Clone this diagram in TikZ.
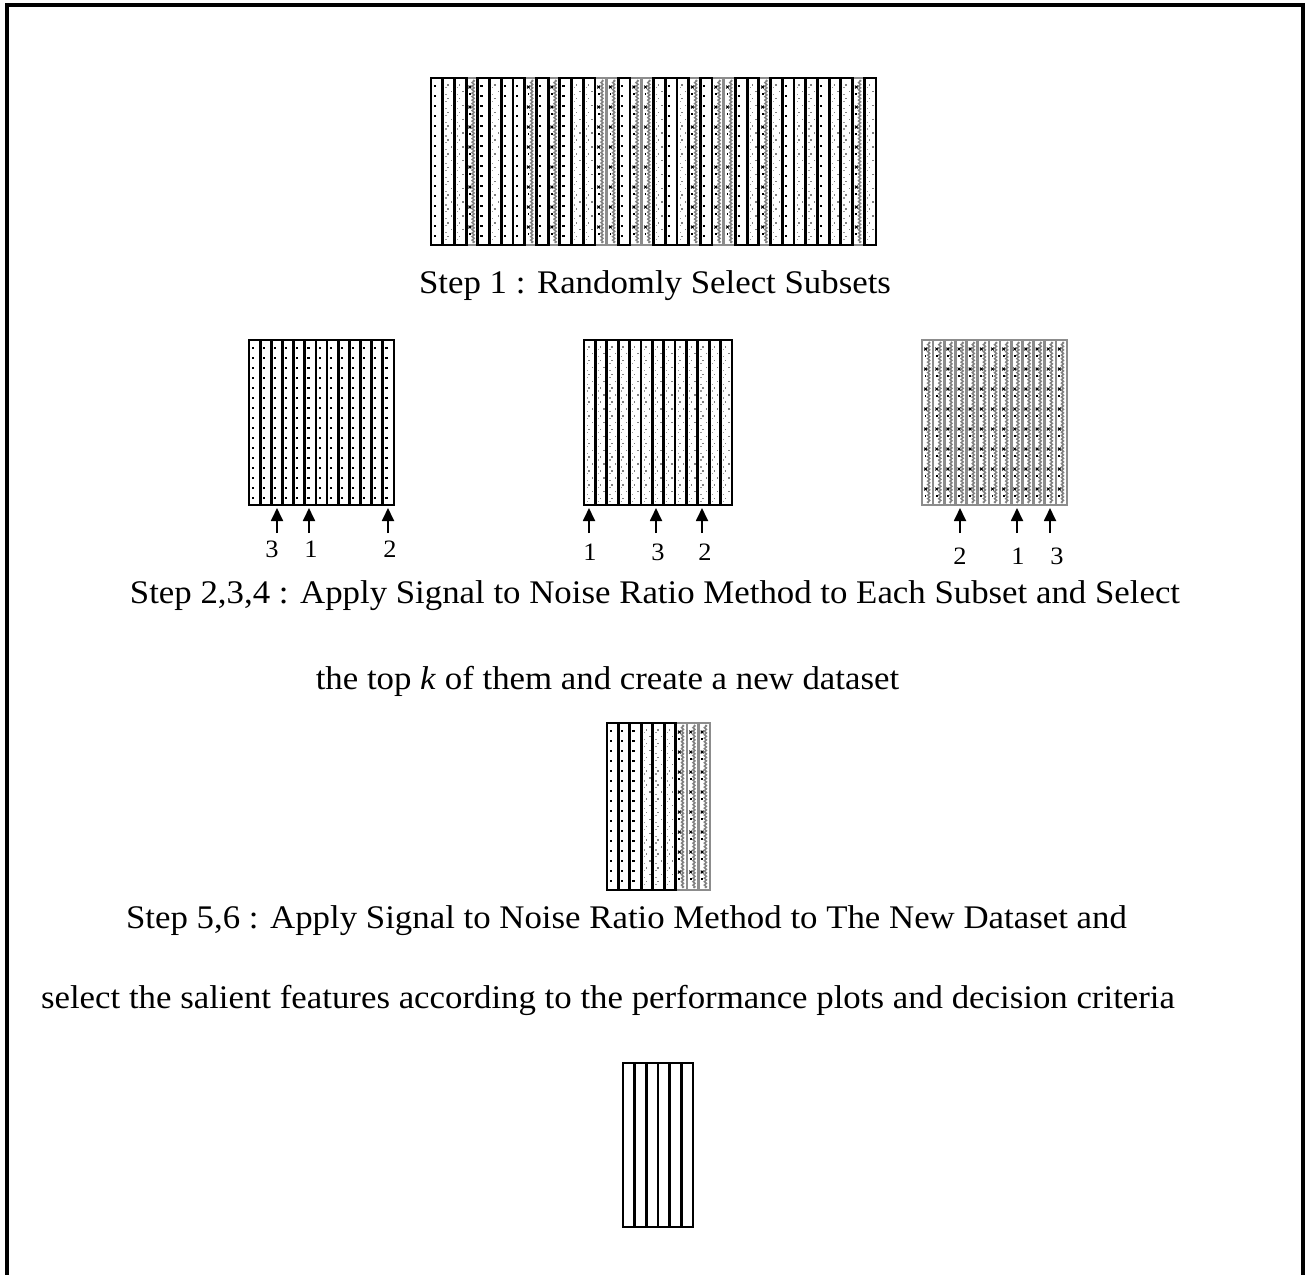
\documentclass[tikz,border=0pt]{standalone}
\usepackage{fontspec}
\setmainfont[FakeStretch=1.055]{Liberation Serif}
\usetikzlibrary{arrows.meta,decorations.pathmorphing}
\tikzset{
  blk/.style={draw=black, line width=2.8pt},
  gry/.style={draw=black!45, line width=2.6pt},
  frameline/.style={line width=3.4pt},
  arr/.style={-{Triangle[length=13pt,width=12pt]}, line width=1.8pt},
  lbl/.style={font=\fontsize{25}{28}\selectfont, inner sep=0pt},
  txt/.style={font=\fontsize{33}{36}\selectfont, inner sep=0pt, anchor=base},
  dotA/.style={fill=black},
  dotB/.style={fill=black!50},
  wave/.style={draw=black!50, line width=1.5pt, decorate, decoration={zigzag, amplitude=1pt, segment length=3.5pt}},
}
% column kinds: x0 y0 x1 y1
\newcommand\colA[4]{%
  \fill[white] (#1,#2) rectangle (#3,#4);
  \foreach \k in {0,...,15}{\fill[dotA] ({#1+2.6},{#2+7+10*\k}) rectangle ++(2.2,2.2);}
}
\newcommand\colB[4]{%
  \fill[white] (#1,#2) rectangle (#3,#4);
  \foreach \k in {0,...,22}{%
    \pgfmathsetmacro\fx{mod(\k,2)==0 ? 0.38 : 0.68}
    \fill[dotB] ({#1+\fx*(#3-#1)},{#2+6+6.9*\k}) rectangle ++(1.5,1.5);
    \fill[black!40] ({#1+2.6},{#2+9+6.9*\k}) rectangle ++(1.2,1.2);}
}
\newcommand\colC[4]{%
  \fill[white] (#1,#2) rectangle (#3,#4);
  \draw[wave] ({#1+0.6*(#3-#1)},{#2+2}) -- ({#1+0.6*(#3-#1)},{#4-2});
  \foreach \k in {0,...,7}{%
    \draw[black, line width=1pt] ({#1+0.32*(#3-#1)-1.4},{#2+9+20*\k-1.4}) -- ++(2.8,2.8)
      ({#1+0.32*(#3-#1)-1.4},{#2+9+20*\k+1.4}) -- ++(2.8,-2.8);
    \fill[black] ({#1+0.32*(#3-#1)-0.9},{#2+15+20*\k}) rectangle ++(1.8,1.8);}
}
\newcommand\gbA[4]{}
\newcommand\gbB[4]{}
\newcommand\gbC[4]{\draw[gry] (#1,#2) rectangle (#3,#4);}
\newcommand\bbA[4]{\draw[blk] (#1,#2) rectangle (#3,#4);}
\newcommand\bbB[4]{\draw[blk] (#1,#2) rectangle (#3,#4);}
\newcommand\bbC[4]{}
% draw a box from a sequence of kinds: seq, x0, width of column, y0, y1
\newcommand\stripbox[5]{%
  \foreach \typ [count=\i from 0] in {#1}{%
    \pgfmathsetmacro\xa{#2+\i*#3}\pgfmathsetmacro\xb{\xa+#3}%
    \csname col\typ\endcsname{\xa}{#4}{\xb}{#5}}%
  \foreach \typ [count=\i from 0] in {#1}{%
    \pgfmathsetmacro\xa{#2+\i*#3}\pgfmathsetmacro\xb{\xa+#3}%
    \csname gb\typ\endcsname{\xa}{#4}{\xb}{#5}}%
  \foreach \typ [count=\i from 0] in {#1}{%
    \pgfmathsetmacro\xa{#2+\i*#3}\pgfmathsetmacro\xb{\xa+#3}%
    \csname bb\typ\endcsname{\xa}{#4}{\xb}{#5}}%
}
\begin{document}
\begin{tikzpicture}[x=1pt,y=-1pt]
\useasboundingbox (0,0) rectangle (1310,1275);
\fill[white] (0,0) rectangle (1310,1275);
% frame
\draw[frameline] (7,1276) -- (7,5) -- (1303,5) -- (1303,1276);

% Step 1 box
\stripbox{A,B,B,C,A,B,A,A,C,A,C,A,B,B,C,C,A,C,C,B,A,B,C,A,C,C,A,B,C,B,A,B,B,A,B,B,C,B}{431}{11.71}{78}{245}
\coordinate (all) at (653,161);
\node[txt] (s1) at (655,293) {Step 1 : Randomly Select Subsets};

% subsets
\stripbox{A,A,A,A,A,A,A,A,A,A,A,A,A}{249}{11.15}{340}{505}
\stripbox{B,B,B,B,B,B,B,B,B,B,B,B,B}{584}{11.38}{340}{505}
\stripbox{C,C,C,C,C,C,C,C,C,C,C,C,C}{922}{11.15}{340}{505}

% arrows and ranks
\foreach \x/\n in {277/a,309/b,388/c,589/d,656/e,702/f,960/g,1017/h,1050/i}{
  \coordinate (t\n) at (\x,533);
  \coordinate (h\n) at (\x,508);
  \draw[arr] (t\n) -- (h\n);
}
\node[lbl] (r1) at (272,549) {3};
\node[lbl] (r2) at (311,549) {1};
\node[lbl] (r3) at (390,549) {2};
\node[lbl] (r4) at (590,552) {1};
\node[lbl] (r5) at (658,552) {3};
\node[lbl] (r6) at (705,552) {2};
\node[lbl] (r7) at (960,556) {2};
\node[lbl] (r8) at (1018,556) {1};
\node[lbl] (r9) at (1057,556) {3};

\node[txt] (s2) at (655,603) {Step 2,3,4 : Apply Signal to Noise Ratio Method to Each Subset and Select};
\node[txt] (s2b) at (607.5,689) {the top \textit{k} of them and create a new dataset};

% new dataset
\stripbox{A,A,A,B,B,B,C,C,C}{607}{11.44}{723}{890}

\node[txt] (s5) at (626.5,928) {Step 5,6 : Apply Signal to Noise Ratio Method to The New Dataset and};
\node[txt] (s5b) at (608,1008) {select the salient features according to the performance plots and decision criteria};

% final features
\foreach \i in {0,...,5}{
  \draw[blk] ({623+\i*11.67},1063) rectangle ({623+(\i+1)*11.67},1227);
}
\end{tikzpicture}
\end{document}
